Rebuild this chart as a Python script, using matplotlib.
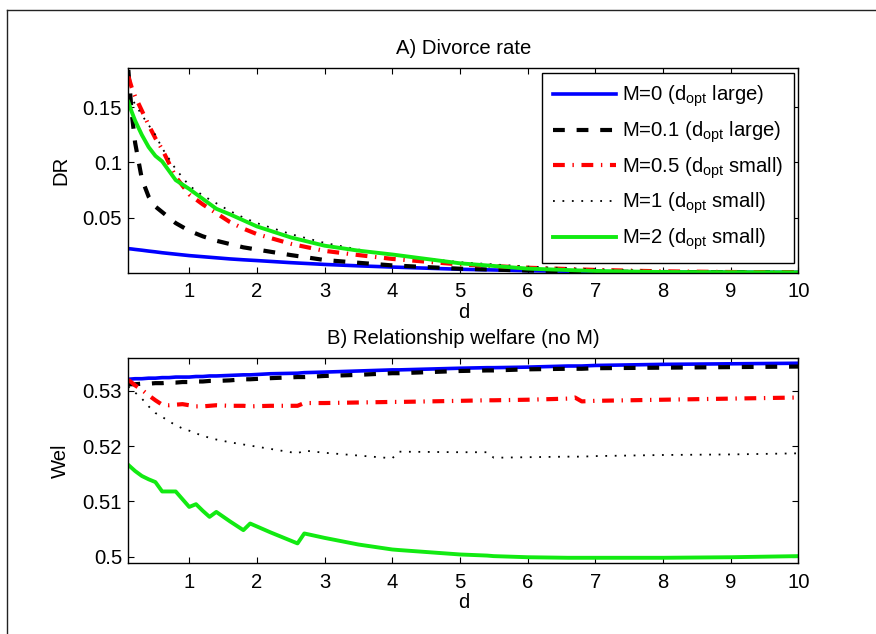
import matplotlib
matplotlib.use('Agg')
import matplotlib.pyplot as plt
from matplotlib.lines import Line2D

# ---- data ----

# panel A: divorce rate
d_top = [0.1, 0.15, 0.2, 0.3, 0.4, 0.5, 0.6, 0.8, 1.0, 1.2, 1.4, 1.6, 1.8, 2.0,
         2.5, 3.0, 3.5, 4.0, 5.0, 6.0, 7.0, 8.0, 9.0, 10.0]
dr_m0 = [0.0218, 0.0215, 0.0211, 0.0204, 0.0196, 0.0189, 0.0181, 0.0168, 0.0155, 0.0145,
         0.0135, 0.0125, 0.0117, 0.0110, 0.0091, 0.0075, 0.0062, 0.0051, 0.0031, 0.0018,
         0.0010, 0.0006, 0.0004, 0.0003]
dr_m01 = [0.184, 0.145, 0.118, 0.085, 0.069, 0.060, 0.055, 0.045, 0.038, 0.033,
          0.029, 0.026, 0.023, 0.021, 0.016, 0.0115, 0.009, 0.0066, 0.0036, 0.002,
          0.001, 0.0006, 0.0004, 0.0003]
dr_m05 = [0.178, 0.168, 0.160, 0.147, 0.134, 0.122, 0.112, 0.087, 0.071, 0.062,
          0.054, 0.046, 0.040, 0.035, 0.0262, 0.0198, 0.016, 0.0125, 0.0075, 0.0045,
          0.0025, 0.0012, 0.0006, 0.0003]
dr_m1 = [0.162, 0.158, 0.153, 0.143, 0.134, 0.125, 0.113, 0.094, 0.079, 0.070,
         0.063, 0.056, 0.050, 0.045, 0.035, 0.027, 0.021, 0.016, 0.0095, 0.0055,
         0.003, 0.0015, 0.0008, 0.0004]
dr_m2 = [0.155, 0.146, 0.138, 0.125, 0.114, 0.106, 0.101, 0.084, 0.076, 0.067,
         0.058, 0.053, 0.0475, 0.042, 0.032, 0.0245, 0.020, 0.0165, 0.0085, 0.0037,
         0.0015, 0.0006, 0.0004, 0.0003]

# panel B: relationship welfare
d_bot = [0.1, 0.2, 0.3, 0.4, 0.5, 0.6, 0.7, 0.8, 0.9, 1.0, 1.1, 1.2, 1.3, 1.4, 1.6,
         1.8, 1.9, 2.2, 2.6, 2.7, 3.0, 3.5, 4.0, 4.1, 5.0, 5.4, 5.5, 6.0, 6.6, 6.7,
         6.8, 7.0, 8.0, 9.0, 10.0]
wel_m0 = [0.5321, 0.5322, 0.5322, 0.5323, 0.5323, 0.5324, 0.5324, 0.5325, 0.5325, 0.5325,
          0.5326, 0.5326, 0.5327, 0.5327, 0.5328, 0.5329, 0.5329, 0.5331, 0.5332, 0.5333,
          0.5334, 0.5336, 0.5338, 0.5338, 0.5341, 0.5342, 0.5342, 0.5343, 0.5345, 0.5345,
          0.5345, 0.5346, 0.5348, 0.5349, 0.5350]
wel_m01 = [0.5312, 0.5312, 0.5313, 0.5313, 0.5314, 0.5314, 0.5315, 0.5315, 0.5316, 0.5316,
           0.5317, 0.5317, 0.5318, 0.5318, 0.5319, 0.5321, 0.5321, 0.5323, 0.5325, 0.5325,
           0.5327, 0.5329, 0.5332, 0.5332, 0.5336, 0.5337, 0.5337, 0.5339, 0.5340, 0.5340,
           0.5340, 0.5341, 0.5342, 0.5343, 0.5344]
wel_m05 = [0.5320, 0.5310, 0.5302, 0.5292, 0.5283, 0.5275, 0.5274, 0.5275, 0.5276, 0.5274,
           0.5272, 0.5272, 0.5273, 0.5274, 0.5273, 0.5273, 0.5272, 0.5273, 0.5273, 0.5278,
           0.5278, 0.5279, 0.5280, 0.5280, 0.5282, 0.5283, 0.5283, 0.5284, 0.5286, 0.5288,
           0.5281, 0.5282, 0.5284, 0.5286, 0.5288]
wel_m1 = [0.5308, 0.5297, 0.5286, 0.5272, 0.5260, 0.5253, 0.5245, 0.5238, 0.5232, 0.5228,
          0.5223, 0.5219, 0.5215, 0.5212, 0.5207, 0.5203, 0.5201, 0.5195, 0.5187, 0.5192,
          0.5188, 0.5183, 0.5178, 0.5190, 0.5189, 0.5189, 0.5179, 0.5180, 0.5181, 0.5181,
          0.5181, 0.5182, 0.5184, 0.5185, 0.5187]
wel_m2 = [0.5166, 0.5155, 0.5146, 0.5140, 0.5135, 0.5118, 0.5118, 0.5118, 0.5104, 0.5090,
          0.5095, 0.5083, 0.5072, 0.5081, 0.5064, 0.5048, 0.5060, 0.5044, 0.5024, 0.5042,
          0.5034, 0.5022, 0.5013, 0.5012, 0.5004, 0.5002, 0.5001, 0.4999, 0.4998, 0.4998,
          0.4998, 0.4998, 0.4998, 0.4999, 0.5001]

labels = [r'M=0 (d$_{\mathrm{opt}}$ large)',
          r'M=0.1 (d$_{\mathrm{opt}}$ large)',
          r'M=0.5 (d$_{\mathrm{opt}}$ small)',
          r'M=1 (d$_{\mathrm{opt}}$ small)',
          r'M=2 (d$_{\mathrm{opt}}$ small)']

x_ticks = [1, 2, 3, 4, 5, 6, 7, 8, 9, 10]
top_yticks = [0.05, 0.1, 0.15]
top_yticklabels = ['0.05', '0.1', '0.15']
bot_yticks = [0.5, 0.51, 0.52, 0.53]
bot_yticklabels = ['0.5', '0.51', '0.52', '0.53']


# ---- plotting ----

FS = 14.6

plt.rcParams.update({
    'font.family': ['Liberation Sans', 'DejaVu Sans'],
    'font.size': FS,
    'mathtext.fontset': 'custom',
    'mathtext.rm': 'Liberation Sans',
    'mathtext.it': 'Liberation Sans:italic',
    'mathtext.bf': 'Liberation Sans:bold',
    'axes.linewidth': 1.0,
    'xtick.direction': 'in',
    'ytick.direction': 'in',
    'xtick.top': True,
    'ytick.right': True,
    'xtick.major.size': 4.5,
    'ytick.major.size': 4.5,
    'xtick.major.width': 0.8,
    'ytick.major.width': 0.8,
    'xtick.major.pad': 7,
    'ytick.major.pad': 4.5,
    'lines.scale_dashes': False,
})

styles = [
    dict(color = '#0000ff', linestyle = '-', linewidth = 2.6),
    dict(color = 'black', linestyle = (0, (8.5, 8.5)), linewidth = 3.0),
    dict(color = '#ff0000', linestyle = (0, (8.5, 5.5, 1, 5.5)), linewidth = 3.0),
    dict(color = 'black', linestyle = (0, (1.3, 5.5)), linewidth = 1.3),
    dict(color = '#12ea12', linestyle = '-', linewidth = 2.8),
]

fig = plt.figure(figsize = (8.76, 6.34), dpi = 100)

ax1 = fig.add_axes([0.1465, 0.5699, 0.7648, 0.3224])
for series, style, label in zip([dr_m0, dr_m01, dr_m05, dr_m1, dr_m2], styles, labels):
    ax1.plot(d_top, series, label = label, **style)
ax1.set_xlim(0.1, 10)
ax1.set_ylim(0, 0.1855)
ax1.set_xticks(x_ticks)
ax1.set_yticks(top_yticks)
ax1.set_yticklabels(top_yticklabels)
ax1.set_title('A) Divorce rate', pad = 10, fontsize = FS)
ax1.set_xlabel('d', labelpad = 1)
ax1.set_ylabel('DR', labelpad = 9)
leg = ax1.legend(loc = 'upper right', bbox_to_anchor = (0.994, 0.978), borderaxespad = 0,
                 fancybox = False, framealpha = 1, edgecolor = 'black',
                 handlelength = 3.1, handletextpad = 0.3, labelspacing = 0.5,
                 borderpad = 0.55, fontsize = FS)
leg.get_frame().set_linewidth(1.0)

ax2 = fig.add_axes([0.1465, 0.1115, 0.7648, 0.3234])
for series, style in zip([wel_m0, wel_m01, wel_m05, wel_m1, wel_m2], styles):
    ax2.plot(d_bot, series, **style)
ax2.set_xlim(0.1, 10)
ax2.set_ylim(0.4988, 0.5359)
ax2.set_xticks(x_ticks)
ax2.set_yticks(bot_yticks)
ax2.set_yticklabels(bot_yticklabels)
ax2.set_title('B) Relationship welfare (no M)', pad = 10, fontsize = FS)
ax2.set_xlabel('d', labelpad = 1)
ax2.set_ylabel('Wel', labelpad = 9)

# outer frame (top and left edges only)
fig.add_artist(Line2D([0.0083, 1.0], [0.9847, 0.9847], transform = fig.transFigure,
                      color = '#222222', linewidth = 1.0))
fig.add_artist(Line2D([0.0083, 0.0083], [0.0, 0.9847], transform = fig.transFigure,
                      color = '#222222', linewidth = 1.0))

fig.savefig('out.png', dpi = 100)
